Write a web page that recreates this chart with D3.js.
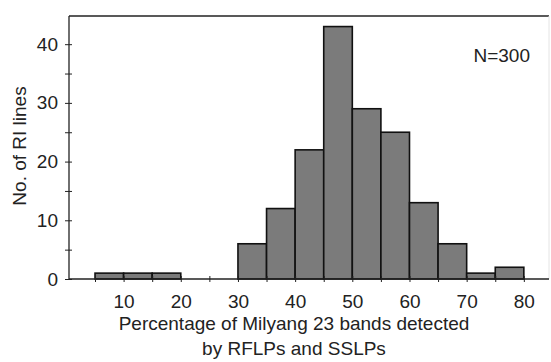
<!DOCTYPE html>
<html>
<head>
<meta charset="utf-8">
<script src="https://cdn.jsdelivr.net/npm/d3@7"></script>
<style>
  body { margin: 0; background: #fff; }
  text { font-family: "Liberation Sans", Arial, sans-serif; fill: #222; }
</style>
</head>
<body>
<div id="chart"></div>
<script>
// bin starts (percent), bin width 5
var binStarts = [5, 10, 15, 30, 35, 40, 45, 50, 55, 60, 65, 70, 75];
var binCounts = [1, 1, 1, 6, 12, 22, 43, 29, 25, 13, 6, 1, 2];
var xTickLabels = [10, 20, 30, 40, 50, 60, 70, 80];
var yTickLabels = [0, 10, 20, 30, 40];
var binWidth = 5;

var width = 551, height = 362;
var plotLeft = 69, plotRight = 549, plotTop = 16, plotBottom = 279;

var svg = d3.select("#chart").append("svg")
    .attr("width", width)
    .attr("height", height);

var x = d3.scaleLinear().domain([0.45, 84.4]).range([plotLeft, plotRight]);
var y = d3.scaleLinear().domain([0, 44.8]).range([plotBottom, plotTop]);

// bars
svg.selectAll("rect.bar")
    .data(binStarts)
    .enter().append("rect")
    .attr("class", "bar")
    .attr("x", function(d){ return x(d); })
    .attr("width", function(d){ return x(d + binWidth) - x(d); })
    .attr("y", function(d, i){ return y(binCounts[i]); })
    .attr("height", function(d, i){ return y(0) - y(binCounts[i]); })
    .style("fill", "#7b7b7b")
    .style("stroke", "#111")
    .style("stroke-width", 1.6);

// frame: top line and faint right edge
svg.append("line")
    .attr("x1", plotLeft).attr("x2", plotRight)
    .attr("y1", plotTop).attr("y2", plotTop)
    .style("stroke", "#222").style("stroke-width", 1.6);
svg.append("line")
    .attr("x1", plotRight).attr("x2", plotRight)
    .attr("y1", plotTop).attr("y2", plotBottom)
    .style("stroke", "#e4e4e4").style("stroke-width", 1);

// x axis: ticks every 5 crossing the line, labels at 10s
var xAxis = d3.axisBottom(x)
    .tickValues(d3.range(5, 85, 5))
    .tickSizeInner(3).tickSizeOuter(0)
    .tickFormat(function(d){ return xTickLabels.indexOf(d) >= 0 ? d : ""; });
var gx = svg.append("g").attr("transform", "translate(0," + plotBottom + ")").call(xAxis);
gx.select(".domain").attr("d", "M" + plotLeft + ",0H" + plotRight).style("stroke", "#222").style("stroke-width", 1.3);
gx.selectAll(".tick line").attr("y1", -3).attr("y2", 3).style("stroke", "#222");
gx.selectAll(".tick text").attr("y", 29).attr("dy", null).style("font-size", "19px");

// y axis
var yAxis = d3.axisLeft(y)
    .tickValues(d3.range(0, 45, 5))
    .tickSizeInner(3).tickSizeOuter(0)
    .tickFormat(function(d){ return yTickLabels.indexOf(d) >= 0 ? d : ""; });
var gy = svg.append("g").attr("transform", "translate(" + plotLeft + ",0)").call(yAxis);
gy.select(".domain").attr("d", "M0," + plotTop + "V" + plotBottom).style("stroke", "#222").style("stroke-width", 1.3);
gy.selectAll(".tick line").attr("x1", -4).attr("x2", 3).style("stroke", "#222");
gy.selectAll(".tick text").attr("x", -11).style("font-size", "19px");

// titles
svg.append("text")
    .attr("x", 294).attr("y", 330)
    .attr("text-anchor", "middle")
    .style("font-size", "19px")
    .text("Percentage of Milyang 23 bands detected");
svg.append("text")
    .attr("x", 294).attr("y", 355)
    .attr("text-anchor", "middle")
    .style("font-size", "19px")
    .text("by RFLPs and SSLPs");
svg.append("text")
    .attr("transform", "translate(26,146) rotate(-90)")
    .attr("text-anchor", "middle")
    .style("font-size", "19px")
    .text("No. of RI lines");
svg.append("text")
    .attr("x", 530).attr("y", 62)
    .attr("text-anchor", "end")
    .style("font-size", "19px")
    .text("N=300");
</script>
</body>
</html>
